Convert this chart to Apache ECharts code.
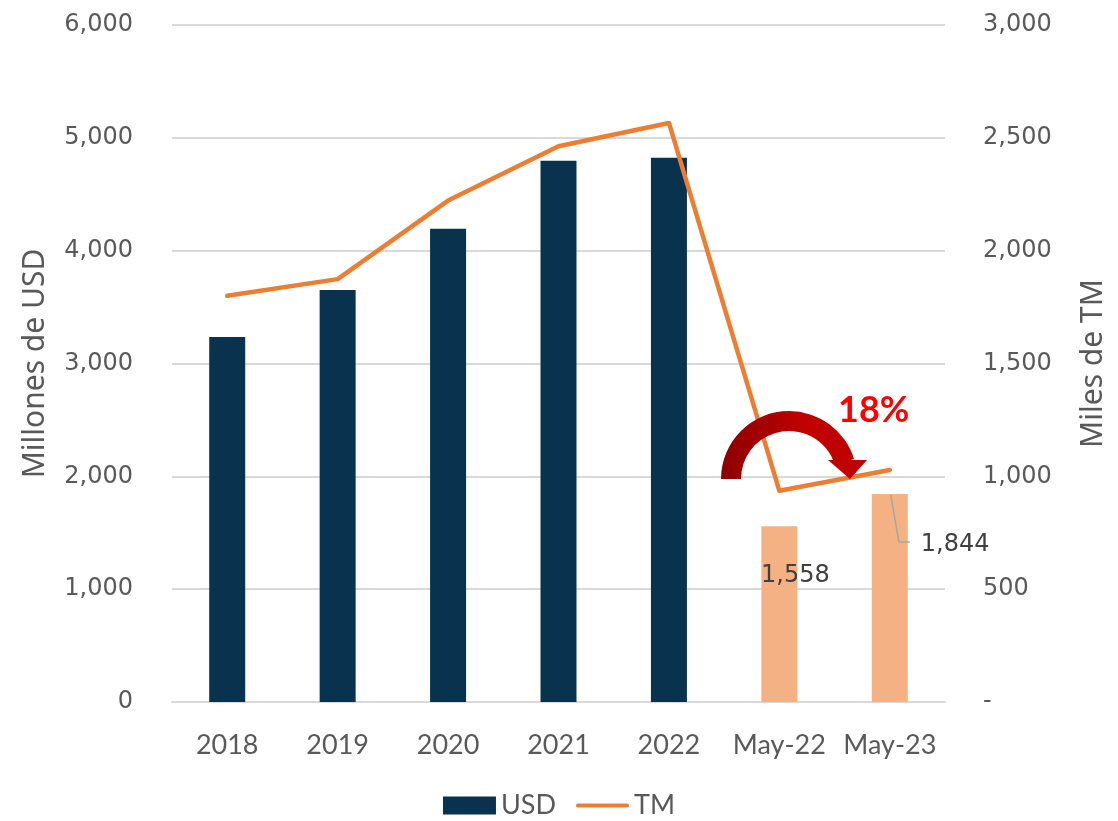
<!DOCTYPE html>
<html>
<head>
<meta charset="utf-8">
<script src="https://cdn.jsdelivr.net/npm/echarts@6/dist/echarts.min.js"></script>
<style>
  html, body { margin: 0; padding: 0; background: #ffffff; }
  #chart { width: 1118px; height: 821px; }
</style>
</head>
<body>
<div id="chart"></div>
<script>
// Exports: value in millions of USD (bars) and volume in thousands of tonnes (line)
const categories = ['2018', '2019', '2020', '2021', '2022', 'May-22', 'May-23'];
const usdValues = [3235, 3651, 4195, 4797, 4824, 1558, 1844];
const tmValues = [1800, 1874, 2222, 2463, 2566, 936, 1028];
const usdTicks = { min: 0, max: 6000, interval: 1000 };
const tmTicks = { min: 0, max: 3000, interval: 500 };
const changeText = '18%';

const NAVY = '#08324D';
const PEACH = '#F4B183';
const ORANGE = '#ED7D31';
const GREY_TEXT = '#595959';
const GRID = '#D9D9D9';
const LABEL_FONT = 'Lato, "Noto Sans", sans-serif';
const NUM_FONT = '"DejaVu Sans", Verdana, sans-serif';

const fmt = v => Number(v).toLocaleString('en-US');

// The two year-to-date bars are shaded differently and carry value labels
const barData = usdValues.map((v, i) => {
  const item = { value: v };
  if (i >= 5) item.itemStyle = { color: PEACH };
  if (i === 5) {
    item.label = { show: true, position: [34, 50], align: 'center', verticalAlign: 'middle' };
  }
  if (i === 6) {
    item.label = { show: true, position: [49, 51], align: 'left', verticalAlign: 'middle' };
  }
  return item;
});

const chart = echarts.init(document.getElementById('chart'), null, { renderer: 'canvas' });

chart.setOption({
  animation: false,
  backgroundColor: '#ffffff',
  grid: { left: 172, right: 173, top: 25, bottom: 119, containLabel: false },
  legend: {
    bottom: 2,
    left: 'center',
    itemWidth: 53,
    itemHeight: 18,
    itemGap: 20,
    padding: 0,
    textStyle: { fontFamily: LABEL_FONT, fontSize: 27, color: GREY_TEXT },
    data: [
      { name: 'USD', icon: 'rect' },
      { name: 'TM', icon: 'path://M2,0 L53,0 A2,2 0 0 1 53,4 L2,4 A2,2 0 0 1 2,0 Z' }
    ]
  },
  xAxis: {
    type: 'category',
    data: categories,
    axisLine: { lineStyle: { color: GRID, width: 2 } },
    axisTick: { show: false },
    axisLabel: { interval: 0, fontFamily: LABEL_FONT, fontSize: 27, color: GREY_TEXT, margin: 30 }
  },
  yAxis: [
    {
      type: 'value',
      min: usdTicks.min, max: usdTicks.max, interval: usdTicks.interval,
      name: 'Millones de USD',
      nameLocation: 'middle',
      nameGap: 122,
      nameTextStyle: { fontFamily: '"Noto Sans", sans-serif', fontSize: 30, color: GREY_TEXT },
      axisLine: { show: false },
      axisTick: { show: false },
      splitLine: { lineStyle: { color: GRID, width: 2 } },
      axisLabel: {
        fontFamily: NUM_FONT, fontSize: 24, color: GREY_TEXT, margin: 39,
        formatter: v => fmt(v)
      }
    },
    {
      type: 'value',
      position: 'right',
      min: tmTicks.min, max: tmTicks.max, interval: tmTicks.interval,
      name: 'Miles de TM',
      nameLocation: 'middle',
      nameGap: 133,
      nameTextStyle: { fontFamily: '"Noto Sans", sans-serif', fontSize: 30, color: GREY_TEXT },
      axisLine: { show: false },
      axisTick: { show: false },
      splitLine: { show: false },
      axisLabel: {
        fontFamily: NUM_FONT, fontSize: 24, color: GREY_TEXT, margin: 38,
        formatter: v => (v === 0 ? '-' : fmt(v))
      }
    }
  ],
  series: [
    {
      name: 'USD',
      type: 'bar',
      yAxisIndex: 0,
      barWidth: 36,
      itemStyle: { color: NAVY },
      label: {
        show: false,
        fontFamily: NUM_FONT,
        fontSize: 24,
        color: '#404040',
        formatter: p => fmt(p.value)
      },
      data: barData,
      z: 2
    },
    {
      name: 'TM',
      type: 'line',
      yAxisIndex: 1,
      symbol: 'none',
      lineStyle: { color: ORANGE, width: 4.5, cap: 'round', join: 'round' },
      itemStyle: { color: ORANGE },
      data: tmValues,
      z: 3
    }
  ]
});

// Annotations: curved change arrow, its percentage and the leader for the last label
const lastIdx = categories.length - 1;
const lastTop = chart.convertToPixel({ xAxisIndex: 0, yAxisIndex: 0 }, [lastIdx, usdValues[lastIdx]]);
const arcCx = 789, arcCy = 479;

chart.setOption({
  graphic: [
    {
      type: 'sector',
      z: 10,
      shape: { cx: arcCx, cy: arcCy, r0: 48, r: 68, startAngle: Math.PI, endAngle: 2 * Math.PI - 0.3, clockwise: true },
      style: {
        fill: new echarts.graphic.LinearGradient(0, 0, 1, 0, [
          { offset: 0, color: '#8E0000' },
          { offset: 0.35, color: '#A80000' },
          { offset: 0.6, color: '#C00000' },
          { offset: 1, color: '#C00000' }
        ])
      }
    },
    {
      type: 'polygon',
      z: 10,
      shape: { points: [[arcCx + 39, arcCy - 19], [arcCx + 78, arcCy - 19], [arcCx + 61, arcCy]] },
      style: { fill: '#C00000' }
    },
    {
      type: 'text',
      z: 10,
      left: 838,
      top: 392,
      style: {
        text: changeText,
        fill: '#FF0000',
        font: 'bold 36px ' + LABEL_FONT
      }
    },
    {
      type: 'polyline',
      z: 10,
      shape: { points: [[lastTop[0] + 1, lastTop[1] + 1], [lastTop[0] + 9, lastTop[1] + 48], [lastTop[0] + 20, lastTop[1] + 48]] },
      style: { stroke: '#A6A6A6', lineWidth: 1.5, fill: null }
    }
  ]
});
</script>
</body>
</html>
